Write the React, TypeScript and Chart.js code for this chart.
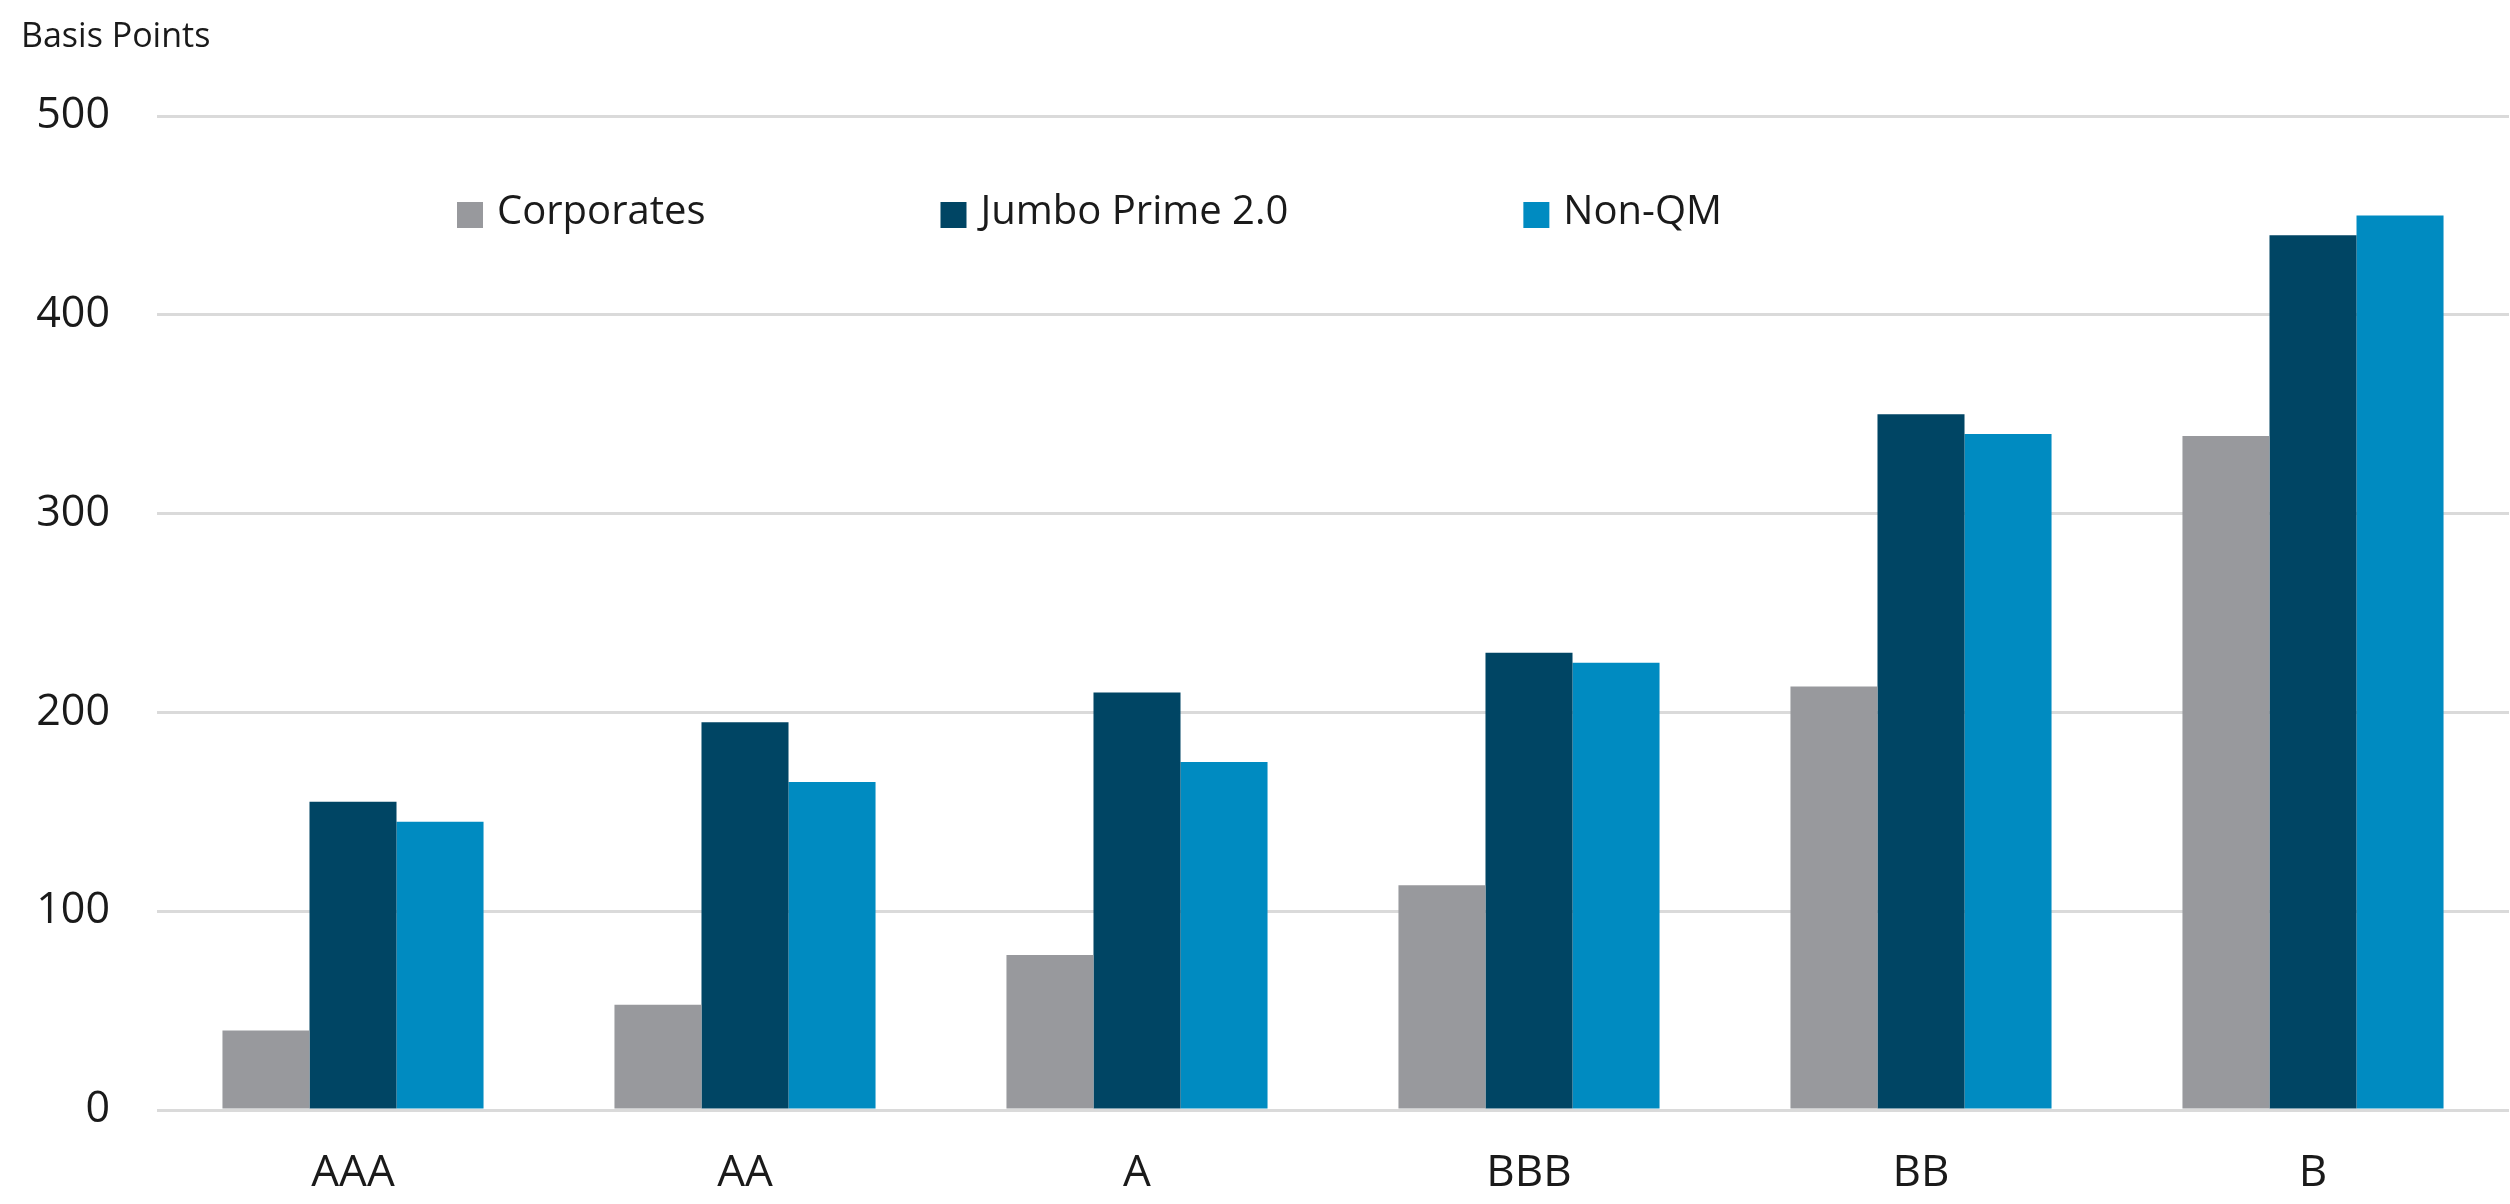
import React, { useEffect, useRef } from "react";
import { Chart, registerables } from "chart.js";

Chart.register(...registerables);

const categories = ["AAA", "AA", "A", "BBB", "BB", "B"];
const corporates = [40, 53, 78, 113, 213, 339];
const jumboPrime = [155, 195, 210, 230, 350, 440];
const nonQM = [145, 165, 175, 225, 340, 450];
const seriesLabels = ["Corporates", "Jumbo Prime 2.0", "Non-QM"];
const yTicks = [0, 100, 200, 300, 400, 500];
const yAxisTitle = "Basis Points";

const FONT = "'Open Sans', 'Noto Sans', sans-serif";
const TEXT = "#1a1a1a";
const COLORS = ["#98999d", "#004564", "#008bc1"];

const titlePlugin = {
  id: "topLeftTitle",
  afterDraw(chart: any) {
    const ctx = chart.ctx;
    ctx.save();
    ctx.font = `34px ${FONT}`;
    ctx.fillStyle = TEXT;
    ctx.textBaseline = "alphabetic";
    ctx.textAlign = "left";
    ctx.fillText(yAxisTitle, 21, 47);
    ctx.restore();
  },
};

const legendPlugin = {
  id: "inAreaLegend",
  afterDraw(chart: any) {
    const ctx = chart.ctx;
    const area = chart.chartArea;
    ctx.save();
    ctx.font = `40px ${FONT}`;
    ctx.textBaseline = "middle";
    ctx.textAlign = "left";
    let x = area.left + 300;
    const y = area.top + 99;
    chart.data.datasets.forEach((ds: any) => {
      ctx.fillStyle = ds.backgroundColor;
      ctx.fillRect(x, y - 13, 26, 26);
      ctx.fillStyle = TEXT;
      ctx.fillText(ds.label, x + 40, y - 2);
      x += 40 + ctx.measureText(ds.label).width + 235;
    });
    ctx.restore();
  },
};

export default function App() {
  const ref = useRef<HTMLCanvasElement | null>(null);

  useEffect(() => {
    if (!ref.current) return;
    const chart = new Chart(ref.current, {
      type: "bar",
      data: {
        labels: categories,
        datasets: [
          { label: seriesLabels[0], data: corporates, backgroundColor: COLORS[0] },
          { label: seriesLabels[1], data: jumboPrime, backgroundColor: COLORS[1] },
          { label: seriesLabels[2], data: nonQM, backgroundColor: COLORS[2] },
        ],
      },
      options: {
        animation: false,
        responsive: true,
        maintainAspectRatio: false,
        datasets: {
          bar: { categoryPercentage: 0.666, barPercentage: 1.0, borderWidth: 0 },
        },
        layout: { padding: { top: 116, right: 1, bottom: 0, left: 0 } },
        plugins: {
          legend: { display: false },
          title: { display: false },
          tooltip: { enabled: false },
        },
        scales: {
          x: {
            afterFit: (s: any) => {
              s.height = 94;
            },
            grid: { display: false },
            border: { display: false },
            ticks: {
              color: TEXT,
              font: { family: FONT, size: 44 },
              padding: 29,
              maxRotation: 0,
            },
          },
          y: {
            min: 0,
            max: 500,
            afterFit: (s: any) => {
              s.width = 157;
            },
            afterBuildTicks: (s: any) => {
              s.ticks = yTicks.map((v) => ({ value: v }));
            },
            grid: { color: "#dadada", lineWidth: 3, drawTicks: false },
            border: { display: false },
            ticks: {
              color: TEXT,
              font: { family: FONT, size: 43 },
              padding: 47,
            },
          },
        },
      },
      plugins: [titlePlugin, legendPlugin],
    });
    return () => chart.destroy();
  }, []);

  return (
    <div style={{ position: "absolute", left: 0, top: 0, width: 2510, height: 1204 }}>
      <canvas ref={ref} />
    </div>
  );
}
